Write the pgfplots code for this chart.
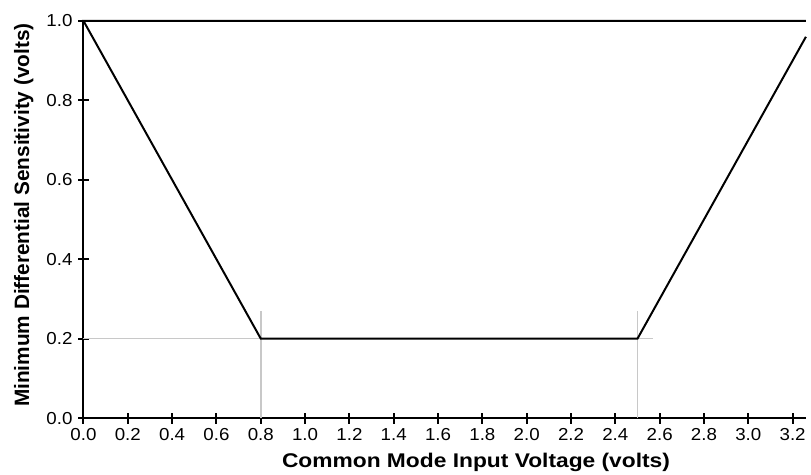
\documentclass[border=0pt]{standalone}
\usepackage{pgfplots}
\pgfplotsset{compat=1.18}
\usepackage{fontspec}
\setmainfont{Liberation Sans}
\definecolor{guide}{RGB}{200,200,200}
\begin{document}
\begin{tikzpicture}
\begin{axis}[
  scale only axis,
  width=727bp, height=399.7bp,
  xmin=0, xmax=3.26, ymin=0, ymax=1.0,
  axis lines=left,
  axis line style={line width=2bp, -},
  clip=false,
  xtick={0,0.2,0.4,0.6,0.8,1.0,1.2,1.4,1.6,1.8,2.0,2.2,2.4,2.6,2.8,3.0,3.2},
  ytick={0,0.2,0.4,0.6,0.8,1.0},
  tick align=center,
  major tick length=11bp,
  tick style={line width=2bp, black},
  /pgf/number format/assume math mode=true,
  xticklabel={\pgfmathprintnumber[fixed,fixed zerofill,precision=1]{\tick}},
  yticklabel={\pgfmathprintnumber[fixed,fixed zerofill,precision=1]{\tick}},
  xticklabel style={font=\fontsize{17.5}{17.5}\selectfont, xscale=1.08, inner sep=5bp},
  yticklabel style={font=\fontsize{17.5}{17.5}\selectfont, xscale=1.08, inner sep=5bp},
  every axis x label/.style={at={(axis description cs:0.5433,-0.1233)}, anchor=base},
  every axis y label/.style={at={(axis description cs:-0.0752,0.511)}, anchor=base, rotate=90},
  xlabel style={font=\bfseries\fontsize{20}{20}\selectfont, xscale=1.15},
  ylabel style={font=\bfseries\fontsize{21}{21}\selectfont},
  xlabel={Common Mode Input Voltage (volts)},
  ylabel={Minimum Differential Sensitivity (volts)},
]
% grey guide lines
\addplot[guide, line width=1.5bp] coordinates {(0,0.2) (2.57,0.2)};
\addplot[guide, line width=1.5bp] coordinates {(0.8,0) (0.8,0.27)};
\addplot[guide, line width=1.5bp] coordinates {(2.5,0) (2.5,0.27)};
% sensitivity envelope
\addplot[black, line width=2bp] coordinates {(3.26,0.96) (2.5,0.2) (0.8,0.2) (0,1.0) (3.26,1.0)};
\end{axis}
\path ([shift={(-84bp,-53.3bp)}]current axis.south west) rectangle ([shift={(0bp,21bp)}]current axis.north east);
\end{tikzpicture}
\end{document}
